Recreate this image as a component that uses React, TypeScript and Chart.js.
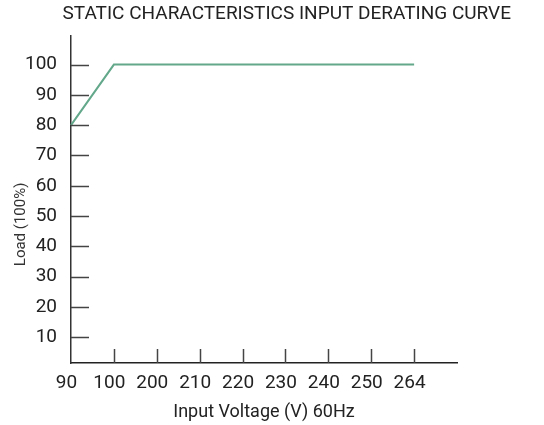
import React, { useEffect, useRef } from "react";
import { Chart, registerables } from "chart.js";

Chart.register(...registerables);

const TITLE = "STATIC CHARACTERISTICS INPUT DERATING CURVE";
const X_TITLE = "Input Voltage (V) 60Hz";
const Y_TITLE = "Load (100%)";
const X_LABELS = ["90", "100", "200", "210", "220", "230", "240", "250", "264"];
const LOAD_VALUES = [80, 100, 100, 100, 100, 100, 100, 100, 100];
const Y_TICKS = [10, 20, 30, 40, 50, 60, 70, 80, 90, 100];
const Y_MIN = 1.5;
const Y_MAX = 109.5;

const FONT = "Roboto";
const LINE_COLOR = "#63a88a";

const tickMarksPlugin = {
  id: "innerTicks",
  afterDraw(chart: any) {
    const { ctx, chartArea, scales } = chart;
    const x = scales.x;
    const y = scales.y;
    ctx.save();
    ctx.strokeStyle = "#444";
    ctx.lineWidth = 1.5;
    ctx.beginPath();
    Y_TICKS.forEach((v) => {
      const py = Math.round(y.getPixelForValue(v)) + 0.5;
      ctx.moveTo(chartArea.left, py);
      ctx.lineTo(chartArea.left + 18, py);
    });
    for (let i = 1; i < X_LABELS.length; i++) {
      const px = Math.round(x.getPixelForValue(i)) + 0.5;
      ctx.moveTo(px, chartArea.bottom);
      ctx.lineTo(px, chartArea.bottom - 14);
    }
    ctx.stroke();

    // rotated y-axis title
    ctx.fillStyle = "#333";
    ctx.font = `15px ${FONT}`;
    ctx.textAlign = "center";
    ctx.textBaseline = "middle";
    ctx.translate(21, (chartArea.top + chartArea.bottom) / 2 + 25);
    ctx.rotate(-Math.PI / 2);
    ctx.fillText(Y_TITLE, 0, 0);
    ctx.restore();
  },
};

export default function App() {
  const ref = useRef<HTMLCanvasElement | null>(null);

  useEffect(() => {
    if (!ref.current) return;
    const chart = new Chart(ref.current, {
      type: "line",
      data: {
        labels: [...X_LABELS, ""],
        datasets: [
          {
            data: LOAD_VALUES,
            borderColor: LINE_COLOR,
            borderWidth: 2,
            pointRadius: 0,
            fill: false,
            tension: 0,
          },
        ],
      },
      options: {
        responsive: false,
        animation: false,
        layout: { padding: { left: 0, right: 33, top: 0, bottom: 0 } },
        plugins: {
          legend: { display: false },
          tooltip: { enabled: false },
          title: {
            display: true,
            text: TITLE,
            align: "end",
            color: "#222",
            font: { family: FONT, size: 19, weight: "normal" },
            padding: { top: 3, bottom: 10 },
          },
        },
        scales: {
          x: {
            type: "category",
            offset: false,
            grid: { display: false, drawTicks: false },
            border: { display: true, color: "#222", width: 1.5 },
            ticks: {
              color: "#222",
              font: { family: FONT, size: 19 },
              padding: 9,
              labelOffset: -4.5,
              autoSkip: false,
              maxRotation: 0,
              minRotation: 0,
            },
            title: {
              display: true,
              text: X_TITLE,
              color: "#222",
              font: { family: FONT, size: 18 },
              padding: { top: 0, bottom: 2 },
            },
            afterFit: (s: any) => {
              s.height = 62;
            },
          },
          y: {
            type: "linear",
            position: "left",
            min: Y_MIN,
            max: Y_MAX,
            grid: { display: false, drawTicks: false },
            border: { display: true, color: "#333", width: 1.5 },
            ticks: {
              color: "#222",
              font: { family: FONT, size: 19 },
              padding: 14,
            },
            afterBuildTicks: (s: any) => {
              s.ticks = Y_TICKS.map((v) => ({ value: v }));
            },
            afterFit: (s: any) => {
              s.width = 71;
            },
          },
          yR: {
            type: "linear",
            position: "right",
            display: true,
            grid: { display: false, drawTicks: false },
            border: { display: false },
            ticks: { display: false },
            afterFit: (s: any) => {
              s.width = 54;
            },
          },
        },
      },
      plugins: [tickMarksPlugin],
    });
    return () => chart.destroy();
  }, []);

  return (
    <div style={{ position: "fixed", left: 0, top: 0, width: 544, height: 425, background: "#fff" }}>
      <canvas ref={ref} width={544} height={425} />
    </div>
  );
}
